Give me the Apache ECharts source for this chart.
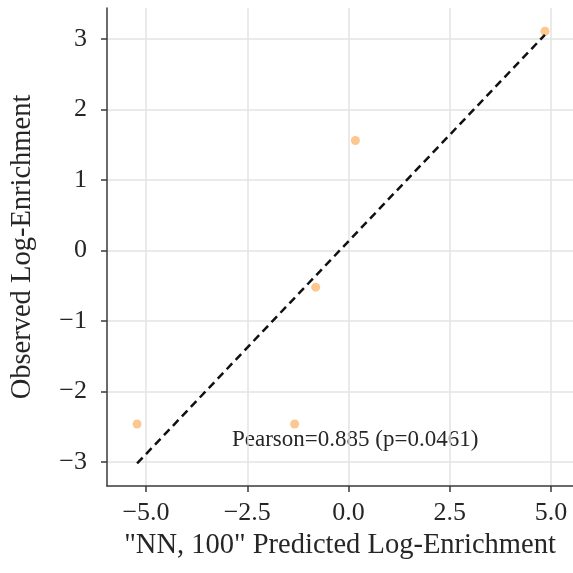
<!DOCTYPE html>
<html>
<head>
<meta charset="utf-8">
<script src="https://cdn.jsdelivr.net/npm/echarts@6/dist/echarts.min.js"></script>
<style>
html,body{margin:0;padding:0;background:#fff;}
#c{width:573px;height:573px;}
</style>
</head>
<body>
<div id="c"></div>
<script>
// Data
const predicted = [4.85, 0.17, -0.81, -1.33, -5.22];
const observed = [3.11, 1.56, -0.52, -2.46, -2.46];
const fitX = [-5.22, 4.85];
const fitY = [-3.02, 3.06];
const xTicks = [-5.0, -2.5, 0.0, 2.5, 5.0];
const yTicks = [-3, -2, -1, 0, 1, 2, 3];
const annotation = 'Pearson=0.885 (p=0.0461)';
const xTitle = '"NN, 100" Predicted Log-Enrichment';
const yTitle = 'Observed Log-Enrichment';

const FONT = '"Liberation Serif", "DejaVu Serif", serif';
const TXT = '#262626';
const AX = '#3a3a3a';

const chart = echarts.init(document.getElementById('c'), null, {renderer: 'canvas'});
const option = {
  animation: false,
  backgroundColor: '#fff',
  grid: {left: 107, top: 8, right: 0, bottom: 87, containLabel: false},
  xAxis: {
    type: 'value',
    min: -5.963, max: 5.543,
    name: xTitle,
    nameLocation: 'middle',
    nameGap: 40,
    nameTextStyle: {fontFamily: FONT, fontSize: 28.5, color: TXT},
    axisLine: {show: true, onZero: false, lineStyle: {color: AX, width: 1.5}},
    axisTick: {show: true, inside: false, length: 6, customValues: xTicks, lineStyle: {color: AX, width: 1.5}},
    axisLabel: {
      customValues: xTicks, margin: 14,
      fontFamily: FONT, fontSize: 26, color: TXT,
      formatter: v => (v < 0 ? '\u2212' : '') + Math.abs(v).toFixed(1)
    },
    splitLine: {show: true, lineStyle: {color: '#e3e3e3', width: 1.5}}
  },
  yAxis: {
    type: 'value',
    min: -3.34, max: 3.44,
    name: yTitle,
    nameLocation: 'middle',
    nameGap: 70,
    nameRotate: 90,
    nameTextStyle: {fontFamily: FONT, fontSize: 28.5, color: TXT},
    axisLine: {show: true, onZero: false, lineStyle: {color: AX, width: 1.5}},
    axisTick: {show: true, inside: false, length: 6, customValues: yTicks, lineStyle: {color: AX, width: 1.5}},
    axisLabel: {
      customValues: yTicks, margin: 20,
      fontFamily: FONT, fontSize: 26, color: TXT,
      formatter: v => (v < 0 ? '\u2212' : '') + Math.abs(v)
    },
    splitLine: {show: true, lineStyle: {color: '#e3e3e3', width: 1.5}}
  },
  series: [
    {
      type: 'scatter',
      data: predicted.map((x, i) => [x, observed[i]]),
      symbol: 'circle',
      symbolSize: 9,
      itemStyle: {color: '#fdc890', opacity: 1},
      z: 3
    },
    {
      type: 'line',
      data: fitX.map((x, i) => [x, fitY[i]]),
      symbol: 'none',
      lineStyle: {color: '#111', width: 2.5, type: [8, 5]},
      z: 4
    }
  ],
  graphic: [{
    type: 'text',
    left: 232, top: 428,
    style: {text: annotation, font: '23px ' + FONT, fill: TXT}
  }]
};
chart.setOption(option);
</script>
</body>
</html>
